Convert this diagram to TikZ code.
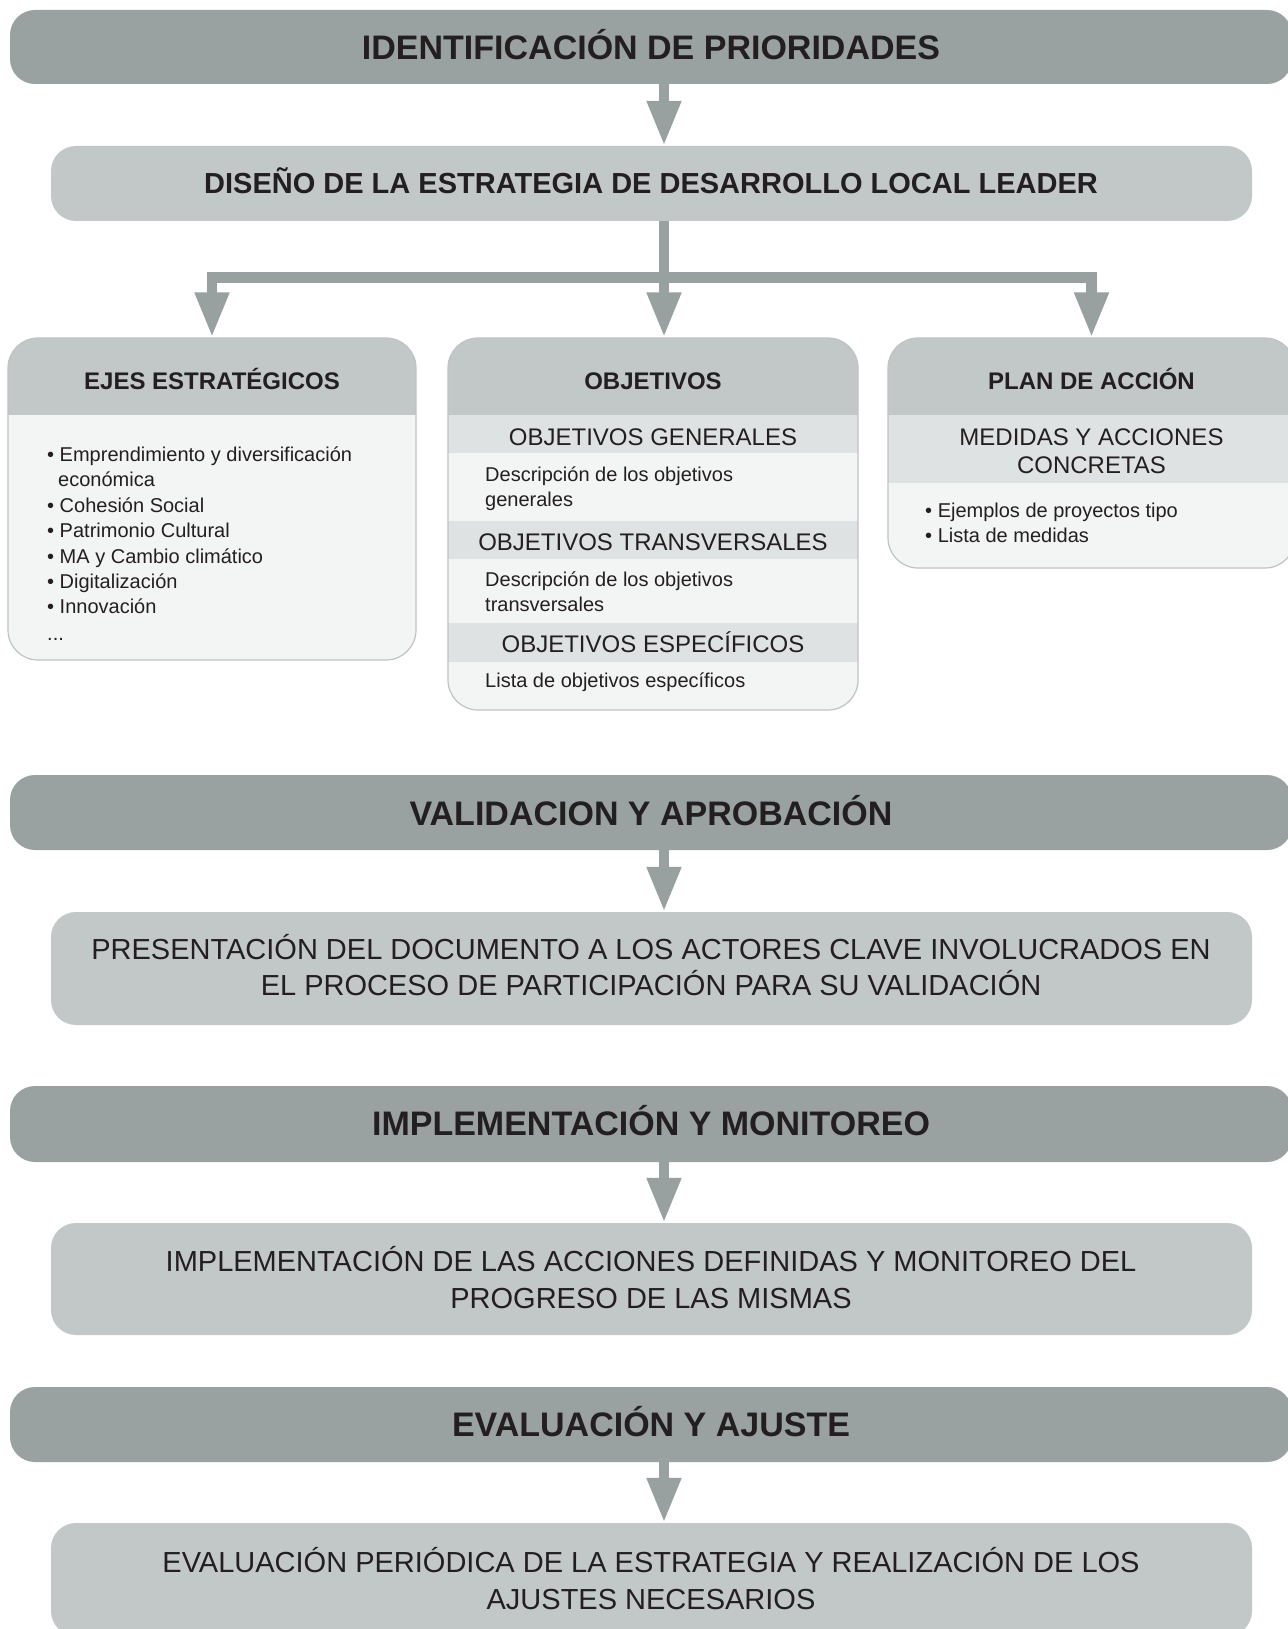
\documentclass[tikz,border=0pt]{standalone}
\usepackage{fontspec}
\setmainfont{Liberation Sans}
\usetikzlibrary{arrows.meta}
\definecolor{darkg}{HTML}{99A1A1}
\definecolor{arrowc}{HTML}{98A0A0}
\definecolor{lightg}{HTML}{C2C7C8}
\definecolor{hdrc}{HTML}{C2C7C8}
\definecolor{bandc}{HTML}{DFE2E2}
\definecolor{bodyc}{HTML}{F3F4F4}
\definecolor{borderc}{HTML}{BEC3C3}
\definecolor{txt}{HTML}{231F20}
\begin{document}
\begin{tikzpicture}[x=1pt,y=-1pt,
  bar/.style={rectangle, rounded corners=25pt, fill=darkg, minimum width=1282pt, minimum height=75pt, inner sep=0pt},
  lbox/.style={rectangle, rounded corners=25pt, fill=lightg, minimum width=1201pt, inner sep=0pt},
  card/.style={rectangle, rounded corners=30pt, fill=bodyc, draw=borderc, line width=1.2pt, inner sep=0pt},
  conn/.style={draw=arrowc, line width=10.5pt, -{Triangle[width=32pt,length=45pt]}},
  ttl/.style={font=\fontsize{34}{40}\selectfont\bfseries, text=txt, anchor=base, inner sep=0pt},
  sub/.style={font=\fontsize{29}{34}\selectfont\bfseries, text=txt, anchor=base, inner sep=0pt},
  big/.style={font=\fontsize{29}{34}\selectfont, text=txt, anchor=base, inner sep=0pt},
  hd/.style={font=\fontsize{24}{28}\selectfont\bfseries, text=txt, anchor=base, inner sep=0pt},
  bnd/.style={font=\fontsize{24}{28}\selectfont, text=txt, anchor=base, inner sep=0pt},
  bd/.style={font=\fontsize{20}{24}\selectfont, text=txt, anchor=base west, inner sep=0pt}
]
\useasboundingbox (0,0) rectangle (1287,1629);
\fill[white] (0,0) rectangle (1287,1629);

\coordinate (ax) at (664,0);
\coordinate (hb) at (664,277.5);

% ---- boxes ----
\node[bar, minimum height=74pt] (bar1) at (651,47) {};
\node[lbox, minimum height=75pt] (box2) at (651.5,183.5) {};

\node[card, minimum width=408pt, minimum height=322pt,
  path picture={\fill[hdrc, sharp corners] (path picture bounding box.north west) rectangle ([yshift=-77pt]path picture bounding box.north east);}]
  (ejes) at (212,499) {};
\node[card, minimum width=410pt, minimum height=372pt,
  path picture={
    \fill[hdrc, sharp corners] (path picture bounding box.north west) rectangle ([yshift=-77pt]path picture bounding box.north east);
    \fill[bandc, sharp corners] ([yshift=-77pt]path picture bounding box.north west) rectangle ([yshift=-115pt]path picture bounding box.north east);
    \fill[bandc, sharp corners] ([yshift=-183pt]path picture bounding box.north west) rectangle ([yshift=-221pt]path picture bounding box.north east);
    \fill[bandc, sharp corners] ([yshift=-285pt]path picture bounding box.north west) rectangle ([yshift=-324pt]path picture bounding box.north east);}]
  (obj) at (653,524) {};
\node[card, minimum width=407pt, minimum height=230pt,
  path picture={
    \fill[hdrc, sharp corners] (path picture bounding box.north west) rectangle ([yshift=-77pt]path picture bounding box.north east);
    \fill[bandc, sharp corners] ([yshift=-77pt]path picture bounding box.north west) rectangle ([yshift=-145pt]path picture bounding box.north east);}]
  (plan) at (1091.5,453) {};

\node[bar] (bar2) at (651,812.5) {};
\node[lbox, minimum height=113pt] (pres) at (651.5,968.5) {};
\node[bar, minimum height=76pt] (bar3) at (651,1124) {};
\node[lbox, minimum height=112pt] (impl) at (651.5,1279) {};
\node[bar] (bar4) at (651,1424.5) {};
\node[lbox, minimum height=113pt] (eval) at (651.5,1579.5) {};

% ---- connectors ----
\draw[conn] (bar1.south -| ax) -- (box2.north -| ax);
\draw[conn] (box2.south -| ax) -- (obj.north -| ax);
\draw[conn] (hb) -| (ejes.north);
\draw[conn] (hb) -| (plan.north);
\draw[conn] (bar2.south -| ax) -- (pres.north -| ax);
\draw[conn] (bar3.south -| ax) -- (impl.north -| ax);
\draw[conn] (bar4.south -| ax) -- (eval.north -| ax);

% ---- texts ----
\node[ttl] (t1) at (651,60) {IDENTIFICACIÓN DE PRIORIDADES};
\node[sub] (t2) at (651,194) {DISEÑO DE LA ESTRATEGIA DE DESARROLLO LOCAL LEADER};

\node[hd] (h1) at (212,389) {EJES ESTRATÉGICOS};
\node[bd] (e1) at (47,461) {•\ Emprendimiento y diversificación};
\node[bd] (e2) at (58,486.5) {económica};
\node[bd] (e3) at (47,512) {•\ Cohesión Social};
\node[bd] (e4) at (47,537.5) {•\ Patrimonio Cultural};
\node[bd] (e5) at (47,563) {•\ MA y Cambio climático};
\node[bd] (e6) at (47,588.5) {•\ Digitalización};
\node[bd] (e7) at (47,613.5) {•\ Innovación};
\node[bd] (e8) at (47,640) {...};

\node[hd] (h2) at (653,389) {OBJETIVOS};
\node[bnd] (o1) at (653,445) {OBJETIVOS GENERALES};
\node[bd] (o2) at (485,481) {Descripción de los objetivos};
\node[bd] (o3) at (485,506) {generales};
\node[bnd] (o4) at (653,550) {OBJETIVOS TRANSVERSALES};
\node[bd] (o5) at (485,586.5) {Descripción de los objetivos};
\node[bd] (o6) at (485,611.5) {transversales};
\node[bnd] (o7) at (653,652) {OBJETIVOS ESPECÍFICOS};
\node[bd] (o8) at (485,687) {Lista de objetivos específicos};

\node[hd] (h3) at (1091.5,389) {PLAN DE ACCIÓN};
\node[bnd] (p1) at (1091.5,445) {MEDIDAS Y ACCIONES};
\node[bnd] (p2) at (1091.5,473) {CONCRETAS};
\node[bd] (p3) at (925,517) {•\ Ejemplos de proyectos tipo};
\node[bd] (p4) at (925,542) {•\ Lista de medidas};

\node[ttl] (t3) at (651,825) {VALIDACION Y APROBACIÓN};
\node[big] (r1) at (651,959) {PRESENTACIÓN DEL DOCUMENTO A LOS ACTORES CLAVE INVOLUCRADOS EN};
\node[big] (r2) at (651,995) {EL PROCESO DE PARTICIPACIÓN PARA SU VALIDACIÓN};

\node[ttl] (t4) at (651,1135) {IMPLEMENTACIÓN Y MONITOREO};
\node[big] (m1) at (651,1271) {IMPLEMENTACIÓN DE LAS ACCIONES DEFINIDAS Y MONITOREO DEL};
\node[big] (m2) at (651,1308) {PROGRESO DE LAS MISMAS};

\node[ttl] (t5) at (651,1436) {EVALUACIÓN Y AJUSTE};
\node[big] (v1) at (651,1572) {EVALUACIÓN PERIÓDICA DE LA ESTRATEGIA Y REALIZACIÓN DE LOS};
\node[big] (v2) at (651,1609) {AJUSTES NECESARIOS};
\end{tikzpicture}
\end{document}
